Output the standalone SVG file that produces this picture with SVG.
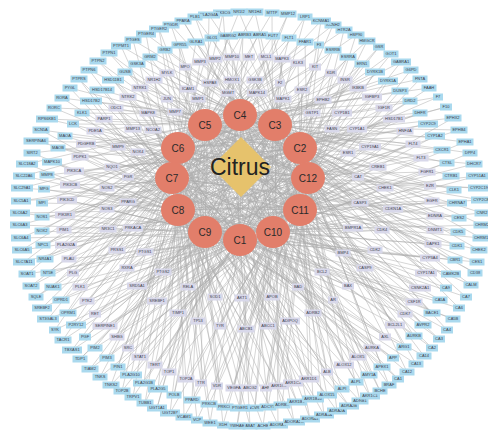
<svg xmlns="http://www.w3.org/2000/svg" width="488" height="432" viewBox="0 0 488 432">
<style>
text{font-family:"Liberation Sans",Arial,sans-serif;font-size:4px;fill:#3c3c48;text-anchor:middle}
.ct{font-size:10px;fill:#2a2a2a}
.cz{font-size:23px;fill:#222}
.e{fill:none;stroke:#acacac;stroke-width:.5;stroke-linejoin:round}
.c{fill:#e27e6a}
</style>
<defs>
<rect id="b2" x="-5" y="-3.5" width="10" height="7" fill="#aad9ee"/>
<rect id="b3" x="-6" y="-3.5" width="12" height="7" fill="#aad9ee"/>
<rect id="b4" x="-7.5" y="-3.5" width="15" height="7" fill="#aad9ee"/>
<rect id="b5" x="-8.5" y="-3.5" width="17" height="7" fill="#aad9ee"/>
<rect id="b6" x="-10" y="-3.5" width="20" height="7" fill="#aad9ee"/>
<rect id="b7" x="-11" y="-3.5" width="22" height="7" fill="#aad9ee"/>
<rect id="b8" x="-12.5" y="-3.5" width="25" height="7" fill="#aad9ee"/>
<rect id="l2" x="-5" y="-3.5" width="10" height="7" fill="#d8d8ea"/>
<rect id="l3" x="-6" y="-3.5" width="12" height="7" fill="#d8d8ea"/>
<rect id="l4" x="-7.5" y="-3.5" width="15" height="7" fill="#d8d8ea"/>
<rect id="l5" x="-8.5" y="-3.5" width="17" height="7" fill="#d8d8ea"/>
<rect id="l6" x="-10" y="-3.5" width="20" height="7" fill="#d8d8ea"/>
<rect id="l7" x="-11" y="-3.5" width="22" height="7" fill="#d8d8ea"/>
<rect id="l8" x="-12.5" y="-3.5" width="25" height="7" fill="#d8d8ea"/>
</defs>
<rect width="488" height="432" fill="#fff"/>
<g id="connectors" class="e">
<path d="M241 167L240 240M241 167L300 148M241 167L275 125M241 167L240 115M241 167L205 125M241 167L178 148M241 167L172 178M241 167L178 210M241 167L205 232M241 167L273 232M241 167L300 210M241 167L308 178"/>
<path d="M240 240L250 426L178 148M300 148L263 426L172 178M275 125L278 425L178 210M240 115L294 422L205 232M205 125L310 419L273 232M178 148L324 415L300 210M172 178L337 411L308 178M178 210L349 406L240 240M205 232L360 401L300 148M273 232L370 396L275 125M300 210L380 391L240 115M308 178L389 385L205 125M240 240L398 379L178 148M300 148L407 372L172 178M275 125L416 364L178 210M240 115L424 356L205 232M205 125L432 348L273 232M178 148L439 339L300 210M172 178L447 330L308 178M178 210L453 319L240 240M205 232L459 308L300 148M273 232L466 297L275 125M300 210L471 285L240 115M308 178L475 273L205 125M240 240L477 262L178 148M300 148L479 250L172 178M275 125L481 238L178 210M240 115L482 225L205 232M205 125L482 213L273 232M178 148L481 200L300 210M172 178L479 188L308 178M178 210L477 176L240 240M205 232L474 164L300 148M273 232L470 153L275 125M300 210L465 142L240 115M308 178L459 130L205 125M240 240L453 118L178 148M300 148L446 107L172 178M275 125L438 97L178 210M240 115L429 88L205 232M205 125L420 79L273 232M178 148L411 70L300 210M172 178L401 62L308 178M178 210L391 54L240 240M205 232L379 47L300 148M273 232L367 41L275 125M300 210L356 35L240 115M308 178L344 30L205 125M240 240L333 25L178 148M300 148L321 21L172 178M275 125L305 17L178 210M240 115L288 14L205 232M205 125L272 13L273 232M178 148L255 12L300 210M172 178L239 12L308 178M178 210L223 13L240 240M205 232L209 15L300 148M273 232L195 17L275 125M300 210L183 21L240 115M308 178L171 25L205 125M240 240L159 29L178 148M300 148L146 34L172 178M275 125L133 40L178 210M240 115L121 46L205 232M205 125L109 53L273 232M178 148L98 61L300 210M172 178L89 70L308 178M178 210L79 79L240 240M205 232L70 88L300 148M273 232L62 98L275 125M300 210L54 108L240 115M308 178L47 119L205 125M240 240L41 130L178 148M300 148L36 141L172 178M275 125L32 153L178 210M240 115L27 164L205 232M205 125L24 176L273 232M178 148L22 188L300 210M172 178L21 201L308 178M178 210L20 213L240 240M205 232L20 225L300 148M273 232L21 238L275 125M300 210L22 250L240 115M308 178L24 262L205 125M240 240L27 274L178 148M300 148L31 286L172 178M275 125L36 297L178 210M240 115L42 308L205 232M205 125L48 319L273 232M178 148L55 330L300 210M172 178L63 340L308 178M178 210L72 350L240 240M205 232L80 359L300 148M273 232L90 369L275 125M300 210L100 377L240 115M308 178L111 385L205 125M240 240L122 391L178 148M300 148L133 397L172 178M275 125L145 403L178 210M240 115L157 408L205 232M205 125L170 413L273 232M178 148L184 417L300 210M172 178L197 420L308 178M178 210L210 423L240 240M205 232L223 425L300 148M273 232L237 426L275 125"/>
<path d="M275 125L255 408L273 232M240 115L268 407L300 210M205 125L282 405L308 178M178 148L297 402L240 240M172 178L313 399L300 148M178 210L327 395L275 125M205 232L342 389L240 115M273 232L356 382L205 125M300 210L369 375L178 148M308 178L382 367L172 178M240 240L393 358L178 210M300 148L404 347L205 232M275 125L414 336L273 232M240 115L423 325L300 210M205 125L432 313L308 178M178 148L440 300L240 240M172 178L446 288L300 148M178 210L451 274L275 125M205 232L455 260L240 115M273 232L457 246L205 125M300 210L458 232L178 148M308 178L459 218L172 178M240 240L457 203L178 210M300 148L454 190L205 232M275 125L451 176L273 232M240 115L447 163L300 210M205 125L442 150L308 178M178 148L435 136L240 240M172 178L428 124L300 148M178 210L420 113L275 125M205 232L410 101L240 115M273 232L400 91L205 125M300 210L388 81L178 148M308 178L375 72L172 178M240 240L362 64L178 210M300 148L348 57L205 232M275 125L333 50L273 232M240 115L319 45L300 210M205 125L305 42L308 178M178 148L289 38L240 240M172 178L273 36L300 148M178 210L258 35L275 125M205 232L243 35L240 115M273 232L228 36L205 125M300 210L212 38L178 148M308 178L196 42L172 178M240 240L180 45L178 210M300 148L165 50L205 232M275 125L150 57L273 232M240 115L137 64L300 210M205 125L125 72L308 178M178 148L113 80L240 240M172 178L102 90L300 148M178 210L91 101L275 125M205 232L82 113L240 115M273 232L73 124L205 125M300 210L65 136L178 148M308 178L58 148L172 178M240 240L52 162L178 210M300 148L47 175L205 232M275 125L44 189L273 232M240 115L42 203L300 210M205 125L42 217L308 178M178 148L42 231L240 240M172 178L43 245L300 148M178 210L45 259L275 125M205 232L48 273L240 115M273 232L53 287L205 125M300 210L61 300L178 148M308 178L68 313L172 178M240 240L76 325L178 210M300 148L85 337L205 232M275 125L95 348L273 232M240 115L107 358L300 210M205 125L118 367L308 178M178 148L131 375L240 240M172 178L144 383L300 148M178 210L158 389L275 125M205 232L174 395L240 115M273 232L192 400L205 125M300 210L209 404L178 148M308 178L225 407L172 178M240 240L240 408L178 210"/>
<path d="M240 240L250 388L178 148M250 388L273 232M300 148L266 388L172 178M266 388L300 210M275 125L279 386L178 210M279 386L308 178M240 115L293 383L205 232M293 383L240 240M205 125L309 379L273 232M309 379L300 148M178 148L327 372L300 210M327 372L275 125M172 178L344 365L308 178M344 365L240 115M178 210L358 357L240 240M358 357L205 125M205 232L372 348L300 148M372 348L178 148M273 232L385 337L275 125M385 337L172 178M300 210L395 325L240 115M395 325L178 210M308 178L405 314L205 125M405 314L205 232M240 240L414 302L178 148M414 302L273 232M300 148L420 288L172 178M420 288L300 210M275 125L426 273L178 210M426 273L308 178M240 115L430 258L205 232M430 258L240 240M205 125L433 244L273 232M433 244L300 148M178 148L435 230L300 210M435 230L275 125M172 178L435 216L308 178M435 216L240 115M178 210L432 201L240 240M432 201L205 125M205 232L430 186L300 148M430 186L178 148M273 232L427 172L275 125M427 172L172 178M300 210L421 158L240 115M421 158L178 210M308 178L413 144L205 125M413 144L205 232M240 240L405 131L178 148M405 131L273 232M300 148L394 119L172 178M394 119L300 210M275 125L384 108L178 210M384 108L308 178M240 115L372 97L205 232M372 97L240 240M205 125L358 88L273 232M358 88L300 148M178 148L345 80L300 210M345 80L275 125M172 178L331 73L308 178M331 73L240 115M178 210L315 67L240 240M315 67L205 125M205 232L298 63L300 148M298 63L178 148M273 232L282 59L275 125M282 59L172 178M300 210L266 57L240 115M266 57L178 210M308 178L249 57L205 125M249 57L205 232M240 240L232 57L178 148M232 57L273 232M300 148L215 59L172 178M215 59L300 210M275 125L200 62L178 210M200 62L308 178M240 115L185 67L205 232M185 67L240 240M205 125L167 73L273 232M167 73L300 148M178 148L154 80L300 210M154 80L275 125M172 178L140 88L308 178M140 88L240 115M178 210L128 97L240 240M128 97L205 125M205 232L116 108L300 148M116 108L178 148M273 232L104 119L275 125M104 119L172 178M300 210L95 131L240 115M95 131L178 210M308 178L86 144L205 125M86 144L205 232M240 240L80 157L178 148M80 157L273 232M300 148L74 171L172 178M74 171L300 210M275 125L70 185L178 210M70 185L308 178M240 115L67 200L205 232M67 200L240 240M205 125L65 215L273 232M65 215L300 148M178 148L64 230L300 210M64 230L275 125M172 178L66 245L308 178M66 245L240 115M178 210L69 259L240 240M69 259L205 125M205 232L73 273L300 148M73 273L178 148M273 232L80 287L275 125M80 287L172 178M300 210L87 301L240 115M87 301L178 210M308 178L95 314L205 125M95 314L205 232M240 240L105 326L178 148M105 326L273 232M300 148L117 337L172 178M117 337L300 210M275 125L128 348L178 210M128 348L308 178M240 115L140 357L205 232M140 357L240 240M205 125L155 365L273 232M155 365L300 148M178 148L169 372L300 210M169 372L275 125M172 178L186 379L308 178M186 379L240 115M178 210L201 383L240 240M201 383L205 125M205 232L217 386L300 148M217 386L178 148M273 232L234 388L275 125M234 388L172 178M300 210L167 99L240 115M167 99L178 210M308 178L148 113L205 125M148 113L205 232M240 240L153 130L178 148M153 130L273 232M300 148L133 129L172 178M133 129L300 210M275 125L118 147L178 210M118 147L308 178M240 115L138 152L205 232M138 152L240 240M205 125L112 167L273 232M112 167L300 148M178 148L128 177L300 210M128 177L275 125M172 178L107 188L308 178M107 188L240 115M178 210L128 202L240 240M128 202L205 125M205 232L107 209L300 148M107 209L178 148M273 232L108 229L275 125M108 229L172 178M300 210L133 228L240 115M133 228L178 210M308 178L117 250L205 125M117 250L205 232M240 240L145 252L178 148M145 252L273 232M300 148L127 268L172 178M127 268L300 210M275 125L163 272L178 210M163 272L308 178M240 115L137 286L205 232M137 286L240 240M205 125L157 301L273 232M157 301L300 148M178 148L188 287L300 210M188 287L275 125M172 178L215 297L308 178M215 297L240 115M178 210L178 313L240 240M178 313L205 125M205 232L198 321L300 148M198 321L178 148M273 232L220 326L275 125M220 326L172 178M300 210L246 329L240 115M246 329L178 210M308 178L242 298L205 125M242 298L205 232M240 240L268 326L178 148M268 326L273 232M300 148L272 297L172 178M272 297L300 210M275 125L290 321L178 210M290 321L308 178M240 115L298 287L205 232M298 287L240 240M205 125L313 313L273 232M313 313L300 148M178 148L322 272L300 210M322 272L275 125M172 178L333 300L308 178M333 300L240 115M178 210L348 286L240 240M348 286L205 125M205 232L365 268L300 148M365 268L178 148M273 232L343 253L275 125M343 253L172 178M300 210L375 250L240 115M375 250L178 210M308 178L353 228L205 125M353 228L205 232M240 240L382 230L178 148M382 230L273 232M300 148L360 203L172 178M360 203L300 210M275 125L393 209L178 210M393 209L308 178M240 115L358 177L205 232M358 177L240 240M205 125L385 188L273 232M385 188L300 148M178 148L378 167L300 210M378 167L275 125M172 178L348 153L308 178M348 153L240 115M178 210L370 147L240 240M370 147L205 125M205 232L357 129L300 148M357 129L178 148M273 232L332 129L275 125M332 129L172 178M300 210L342 113L240 115M342 113L178 210M308 178L312 113L205 125M312 113L205 232M240 240L323 100L178 148M323 100L273 232M300 148L302 90L172 178M302 90L300 210M275 125L283 99L178 210M283 99L308 178M240 115L280 83L205 232M280 83L240 240M205 125L257 93L273 232M257 93L300 148M178 148L255 80L300 210M255 80L275 125M172 178L228 93L308 178M228 93L240 115M178 210L232 80L240 240M232 80L205 125M205 232L210 83L300 148M210 83L178 148M273 232L198 99L275 125M198 99L172 178M300 210L188 89L240 115M188 89L178 210M308 178L175 112L205 125M175 112L205 232"/>
</g>
<g id="outer-targets">
<g id="n-ABAT" transform="translate(250 426)"><use href="#b4"/><text y="1.4">ABAT</text></g>
<g id="n-ACHE" transform="translate(263 426)"><use href="#b4"/><text y="1.4">ACHE</text></g>
<g id="n-ADORA1" transform="translate(278 425)"><use href="#b6"/><text y="1.4">ADORA1</text></g>
<g id="n-ADORA2A" transform="translate(294 422)"><use href="#b7"/><text y="1.4">ADORA2A</text></g>
<g id="n-ADORA3" transform="translate(310 419)"><use href="#b6"/><text y="1.4">ADORA3</text></g>
<g id="n-ADRA1A" transform="translate(324 415)"><use href="#b6"/><text y="1.4">ADRA1A</text></g>
<g id="n-ADRA2A" transform="translate(337 411)"><use href="#b6"/><text y="1.4">ADRA2A</text></g>
<g id="n-ADRA2B" transform="translate(349 406)"><use href="#b6"/><text y="1.4">ADRA2B</text></g>
<g id="n-ADRB1" transform="translate(360 401)"><use href="#b5"/><text y="1.4">ADRB1</text></g>
<g id="n-AKR1C1" transform="translate(370 396)"><use href="#b6"/><text y="1.4">AKR1C1</text></g>
<g id="n-BCHE" transform="translate(380 391)"><use href="#b4"/><text y="1.4">BCHE</text></g>
<g id="n-BRAF" transform="translate(389 385)"><use href="#b4"/><text y="1.4">BRAF</text></g>
<g id="n-CA1" transform="translate(398 379)"><use href="#b3"/><text y="1.4">CA1</text></g>
<g id="n-CA12" transform="translate(407 372)"><use href="#b4"/><text y="1.4">CA12</text></g>
<g id="n-CA13" transform="translate(416 364)"><use href="#b4"/><text y="1.4">CA13</text></g>
<g id="n-CA14" transform="translate(424 356)"><use href="#b4"/><text y="1.4">CA14</text></g>
<g id="n-CA2" transform="translate(432 348)"><use href="#b3"/><text y="1.4">CA2</text></g>
<g id="n-CA3" transform="translate(439 339)"><use href="#b3"/><text y="1.4">CA3</text></g>
<g id="n-CA4" transform="translate(447 330)"><use href="#b3"/><text y="1.4">CA4</text></g>
<g id="n-CA5B" transform="translate(453 319)"><use href="#b4"/><text y="1.4">CA5B</text></g>
<g id="n-CA6" transform="translate(459 308)"><use href="#b3"/><text y="1.4">CA6</text></g>
<g id="n-CA7" transform="translate(466 297)"><use href="#b3"/><text y="1.4">CA7</text></g>
<g id="n-CALM" transform="translate(471 285)"><use href="#b4"/><text y="1.4">CALM</text></g>
<g id="n-CD38" transform="translate(475 273)"><use href="#b4"/><text y="1.4">CD38</text></g>
<g id="n-CES1" transform="translate(477 262)"><use href="#b4"/><text y="1.4">CES1</text></g>
<g id="n-CHEK2" transform="translate(479 250)"><use href="#b5"/><text y="1.4">CHEK2</text></g>
<g id="n-CHRM1" transform="translate(481 238)"><use href="#b5"/><text y="1.4">CHRM1</text></g>
<g id="n-CHRM2" transform="translate(482 225)"><use href="#b5"/><text y="1.4">CHRM2</text></g>
<g id="n-CNR2" transform="translate(482 213)"><use href="#b4"/><text y="1.4">CNR2</text></g>
<g id="n-CYP2C8" transform="translate(481 200)"><use href="#b6"/><text y="1.4">CYP2C8</text></g>
<g id="n-CYP2C19" transform="translate(479 188)"><use href="#b7"/><text y="1.4">CYP2C19</text></g>
<g id="n-CYP51A1" transform="translate(477 176)"><use href="#b7"/><text y="1.4">CYP51A1</text></g>
<g id="n-DHCR7" transform="translate(474 164)"><use href="#b5"/><text y="1.4">DHCR7</text></g>
<g id="n-DPP4" transform="translate(470 153)"><use href="#b4"/><text y="1.4">DPP4</text></g>
<g id="n-EPHA1" transform="translate(465 142)"><use href="#b5"/><text y="1.4">EPHA1</text></g>
<g id="n-EPHB4" transform="translate(459 130)"><use href="#b5"/><text y="1.4">EPHB4</text></g>
<g id="n-EPHX2" transform="translate(453 118)"><use href="#b5"/><text y="1.4">EPHX2</text></g>
<g id="n-F10" transform="translate(446 107)"><use href="#b3"/><text y="1.4">F10</text></g>
<g id="n-F7" transform="translate(438 97)"><use href="#b2"/><text y="1.4">F7</text></g>
<g id="n-FAAH" transform="translate(429 88)"><use href="#b4"/><text y="1.4">FAAH</text></g>
<g id="n-FNTA" transform="translate(420 79)"><use href="#b4"/><text y="1.4">FNTA</text></g>
<g id="n-G6PD" transform="translate(411 70)"><use href="#b4"/><text y="1.4">G6PD</text></g>
<g id="n-GABRA1" transform="translate(401 62)"><use href="#b6"/><text y="1.4">GABRA1</text></g>
<g id="n-GOT1" transform="translate(391 54)"><use href="#b4"/><text y="1.4">GOT1</text></g>
<g id="n-GSR" transform="translate(379 47)"><use href="#b3"/><text y="1.4">GSR</text></g>
<g id="n-HMGCR" transform="translate(367 41)"><use href="#b5"/><text y="1.4">HMGCR</text></g>
<g id="n-HSP90" transform="translate(356 35)"><use href="#b5"/><text y="1.4">HSP90</text></g>
<g id="n-HTR2A" transform="translate(344 30)"><use href="#b5"/><text y="1.4">HTR2A</text></g>
<g id="n-KCNH2" transform="translate(333 25)"><use href="#b5"/><text y="1.4">KCNH2</text></g>
<g id="n-KCNMA1" transform="translate(321 21)"><use href="#b6"/><text y="1.4">KCNMA1</text></g>
<g id="n-LRP1" transform="translate(305 17)"><use href="#b4"/><text y="1.4">LRP1</text></g>
<g id="n-MMP12" transform="translate(288 14)"><use href="#b5"/><text y="1.4">MMP12</text></g>
<g id="n-MTTP" transform="translate(272 13)"><use href="#b4"/><text y="1.4">MTTP</text></g>
<g id="n-NR1H4" transform="translate(255 12)"><use href="#b5"/><text y="1.4">NR1H4</text></g>
<g id="n-NR1I2" transform="translate(239 12)"><use href="#b5"/><text y="1.4">NR1I2</text></g>
<g id="n-PIK3CG" transform="translate(223 13)"><use href="#b6"/><text y="1.4">PIK3CG</text></g>
<g id="n-PLA2G4A" transform="translate(209 15)"><use href="#b7"/><text y="1.4">PLA2G4A</text></g>
<g id="n-PLB1" transform="translate(195 17)"><use href="#b4"/><text y="1.4">PLB1</text></g>
<g id="n-PPARA" transform="translate(183 21)"><use href="#b5"/><text y="1.4">PPARA</text></g>
<g id="n-PTGDR" transform="translate(171 25)"><use href="#b5"/><text y="1.4">PTGDR</text></g>
<g id="n-PTGER2" transform="translate(159 29)"><use href="#b6"/><text y="1.4">PTGER2</text></g>
<g id="n-PTGER4" transform="translate(146 34)"><use href="#b6"/><text y="1.4">PTGER4</text></g>
<g id="n-PTGES" transform="translate(133 40)"><use href="#b5"/><text y="1.4">PTGES</text></g>
<g id="n-PTPMT1" transform="translate(121 46)"><use href="#b6"/><text y="1.4">PTPMT1</text></g>
<g id="n-PTPN1" transform="translate(109 53)"><use href="#b5"/><text y="1.4">PTPN1</text></g>
<g id="n-PTPN2" transform="translate(98 61)"><use href="#b5"/><text y="1.4">PTPN2</text></g>
<g id="n-PTPN6" transform="translate(89 70)"><use href="#b5"/><text y="1.4">PTPN6</text></g>
<g id="n-PTPRS" transform="translate(79 79)"><use href="#b5"/><text y="1.4">PTPRS</text></g>
<g id="n-PYGL" transform="translate(70 88)"><use href="#b4"/><text y="1.4">PYGL</text></g>
<g id="n-RORA" transform="translate(62 98)"><use href="#b4"/><text y="1.4">RORA</text></g>
<g id="n-RORC" transform="translate(54 108)"><use href="#b4"/><text y="1.4">RORC</text></g>
<g id="n-RPS6KB1" transform="translate(47 119)"><use href="#b7"/><text y="1.4">RPS6KB1</text></g>
<g id="n-SCN5A" transform="translate(41 130)"><use href="#b5"/><text y="1.4">SCN5A</text></g>
<g id="n-SERPINA6" transform="translate(36 141)"><use href="#b8"/><text y="1.4">SERPINA6</text></g>
<g id="n-SIRT2" transform="translate(32 153)"><use href="#b5"/><text y="1.4">SIRT2</text></g>
<g id="n-SLC18A2" transform="translate(27 164)"><use href="#b7"/><text y="1.4">SLC18A2</text></g>
<g id="n-SLC22A6" transform="translate(24 176)"><use href="#b7"/><text y="1.4">SLC22A6</text></g>
<g id="n-SLC29A1" transform="translate(22 188)"><use href="#b7"/><text y="1.4">SLC29A1</text></g>
<g id="n-SLC5A1" transform="translate(21 201)"><use href="#b6"/><text y="1.4">SLC5A1</text></g>
<g id="n-SLC6A2" transform="translate(20 213)"><use href="#b6"/><text y="1.4">SLC6A2</text></g>
<g id="n-SLC6A3" transform="translate(20 225)"><use href="#b6"/><text y="1.4">SLC6A3</text></g>
<g id="n-SLC6A4" transform="translate(21 238)"><use href="#b6"/><text y="1.4">SLC6A4</text></g>
<g id="n-SLC6A5" transform="translate(22 250)"><use href="#b6"/><text y="1.4">SLC6A5</text></g>
<g id="n-SLC7A11" transform="translate(24 262)"><use href="#b7"/><text y="1.4">SLC7A11</text></g>
<g id="n-SOAT1" transform="translate(27 274)"><use href="#b5"/><text y="1.4">SOAT1</text></g>
<g id="n-SOAT2" transform="translate(31 286)"><use href="#b5"/><text y="1.4">SOAT2</text></g>
<g id="n-SQLE" transform="translate(36 297)"><use href="#b4"/><text y="1.4">SQLE</text></g>
<g id="n-SREBF2" transform="translate(42 308)"><use href="#b6"/><text y="1.4">SREBF2</text></g>
<g id="n-ST3GAL3" transform="translate(48 319)"><use href="#b7"/><text y="1.4">ST3GAL3</text></g>
<g id="n-SYK" transform="translate(55 330)"><use href="#b3"/><text y="1.4">SYK</text></g>
<g id="n-TACR1" transform="translate(63 340)"><use href="#b5"/><text y="1.4">TACR1</text></g>
<g id="n-TBXAS1" transform="translate(72 350)"><use href="#b6"/><text y="1.4">TBXAS1</text></g>
<g id="n-TDP1" transform="translate(80 359)"><use href="#b4"/><text y="1.4">TDP1</text></g>
<g id="n-TIAM2" transform="translate(90 369)"><use href="#b5"/><text y="1.4">TIAM2</text></g>
<g id="n-TNKS" transform="translate(100 377)"><use href="#b4"/><text y="1.4">TNKS</text></g>
<g id="n-TNKS2" transform="translate(111 385)"><use href="#b5"/><text y="1.4">TNKS2</text></g>
<g id="n-TOP2B" transform="translate(122 391)"><use href="#b5"/><text y="1.4">TOP2B</text></g>
<g id="n-TRPV1" transform="translate(133 397)"><use href="#b5"/><text y="1.4">TRPV1</text></g>
<g id="n-TUBB1" transform="translate(145 403)"><use href="#b5"/><text y="1.4">TUBB1</text></g>
<g id="n-UGT1A1" transform="translate(157 408)"><use href="#b6"/><text y="1.4">UGT1A1</text></g>
<g id="n-UGT2B7" transform="translate(170 413)"><use href="#b6"/><text y="1.4">UGT2B7</text></g>
<g id="n-VCAM1" transform="translate(184 417)"><use href="#b5"/><text y="1.4">VCAM1</text></g>
<g id="n-VCP" transform="translate(197 420)"><use href="#b3"/><text y="1.4">VCP</text></g>
<g id="n-WEE1" transform="translate(210 423)"><use href="#b4"/><text y="1.4">WEE1</text></g>
<g id="n-XDH" transform="translate(223 425)"><use href="#b3"/><text y="1.4">XDH</text></g>
<g id="n-YWHAE" transform="translate(237 426)"><use href="#b5"/><text y="1.4">YWHAE</text></g>
</g>
<g id="inner-targets">
<g id="n-ACVR1" transform="translate(255 408)"><use href="#b5"/><text y="1.4">ACVR1</text></g>
<g id="n-ADCY5" transform="translate(268 407)"><use href="#b5"/><text y="1.4">ADCY5</text></g>
<g id="n-ADRB3" transform="translate(282 405)"><use href="#b5"/><text y="1.4">ADRB3</text></g>
<g id="n-AKR1B1" transform="translate(297 402)"><use href="#b6"/><text y="1.4">AKR1B1</text></g>
<g id="n-AKR1B10" transform="translate(313 399)"><use href="#b7"/><text y="1.4">AKR1B10</text></g>
<g id="n-ALOX15" transform="translate(327 395)"><use href="#b6"/><text y="1.4">ALOX15</text></g>
<g id="n-ALPI" transform="translate(342 389)"><use href="#b4"/><text y="1.4">ALPI</text></g>
<g id="n-ALPL" transform="translate(356 382)"><use href="#b4"/><text y="1.4">ALPL</text></g>
<g id="n-AMY1A" transform="translate(369 375)"><use href="#b5"/><text y="1.4">AMY1A</text></g>
<g id="n-APEX1" transform="translate(382 367)"><use href="#b5"/><text y="1.4">APEX1</text></g>
<g id="n-APP" transform="translate(393 358)"><use href="#b3"/><text y="1.4">APP</text></g>
<g id="n-ARG1" transform="translate(404 347)"><use href="#b4"/><text y="1.4">ARG1</text></g>
<g id="n-AURKB" transform="translate(414 336)"><use href="#b5"/><text y="1.4">AURKB</text></g>
<g id="n-AVPR2" transform="translate(423 325)"><use href="#b5"/><text y="1.4">AVPR2</text></g>
<g id="n-BACE1" transform="translate(432 313)"><use href="#b5"/><text y="1.4">BACE1</text></g>
<g id="n-CA5A" transform="translate(440 300)"><use href="#b4"/><text y="1.4">CA5A</text></g>
<g id="n-CA9" transform="translate(446 288)"><use href="#b3"/><text y="1.4">CA9</text></g>
<g id="n-CAMK2B" transform="translate(451 274)"><use href="#b6"/><text y="1.4">CAMK2B</text></g>
<g id="n-CBR1" transform="translate(455 260)"><use href="#b4"/><text y="1.4">CBR1</text></g>
<g id="n-CDK1" transform="translate(457 246)"><use href="#b4"/><text y="1.4">CDK1</text></g>
<g id="n-CDK5" transform="translate(458 232)"><use href="#b4"/><text y="1.4">CDK5</text></g>
<g id="n-CES2" transform="translate(459 218)"><use href="#b4"/><text y="1.4">CES2</text></g>
<g id="n-CHRNA7" transform="translate(457 203)"><use href="#b6"/><text y="1.4">CHRNA7</text></g>
<g id="n-CLK1" transform="translate(454 190)"><use href="#b4"/><text y="1.4">CLK1</text></g>
<g id="n-CTRB1" transform="translate(451 176)"><use href="#b5"/><text y="1.4">CTRB1</text></g>
<g id="n-CTSL" transform="translate(447 163)"><use href="#b4"/><text y="1.4">CTSL</text></g>
<g id="n-CXCR1" transform="translate(442 150)"><use href="#b5"/><text y="1.4">CXCR1</text></g>
<g id="n-CYP1A2" transform="translate(435 136)"><use href="#b6"/><text y="1.4">CYP1A2</text></g>
<g id="n-CYP2C9" transform="translate(428 124)"><use href="#b6"/><text y="1.4">CYP2C9</text></g>
<g id="n-DHFR" transform="translate(420 113)"><use href="#b4"/><text y="1.4">DHFR</text></g>
<g id="n-DRD2" transform="translate(410 101)"><use href="#b4"/><text y="1.4">DRD2</text></g>
<g id="n-DUSP3" transform="translate(400 91)"><use href="#b5"/><text y="1.4">DUSP3</text></g>
<g id="n-DYRK1A" transform="translate(388 81)"><use href="#b6"/><text y="1.4">DYRK1A</text></g>
<g id="n-DYRK1B" transform="translate(375 72)"><use href="#b6"/><text y="1.4">DYRK1B</text></g>
<g id="n-ERN1" transform="translate(362 64)"><use href="#b4"/><text y="1.4">ERN1</text></g>
<g id="n-ESRRA" transform="translate(348 57)"><use href="#b5"/><text y="1.4">ESRRA</text></g>
<g id="n-ESRRB" transform="translate(333 50)"><use href="#b5"/><text y="1.4">ESRRB</text></g>
<g id="n-F3" transform="translate(319 45)"><use href="#b2"/><text y="1.4">F3</text></g>
<g id="n-FFAR1" transform="translate(305 42)"><use href="#b5"/><text y="1.4">FFAR1</text></g>
<g id="n-FLT1" transform="translate(289 38)"><use href="#b4"/><text y="1.4">FLT1</text></g>
<g id="n-FUT7" transform="translate(273 36)"><use href="#b4"/><text y="1.4">FUT7</text></g>
<g id="n-GABRA5" transform="translate(258 35)"><use href="#b6"/><text y="1.4">GABRA5</text></g>
<g id="n-GABRB3" transform="translate(243 35)"><use href="#b6"/><text y="1.4">GABRB3</text></g>
<g id="n-GABRG2" transform="translate(228 36)"><use href="#b6"/><text y="1.4">GABRG2</text></g>
<g id="n-GLO1" transform="translate(212 38)"><use href="#b4"/><text y="1.4">GLO1</text></g>
<g id="n-GLRA1" transform="translate(196 42)"><use href="#b5"/><text y="1.4">GLRA1</text></g>
<g id="n-GPR55" transform="translate(180 45)"><use href="#b5"/><text y="1.4">GPR55</text></g>
<g id="n-GRB2" transform="translate(165 50)"><use href="#b4"/><text y="1.4">GRB2</text></g>
<g id="n-GRM2" transform="translate(150 57)"><use href="#b4"/><text y="1.4">GRM2</text></g>
<g id="n-GSK3A" transform="translate(137 64)"><use href="#b5"/><text y="1.4">GSK3A</text></g>
<g id="n-GUSB" transform="translate(125 72)"><use href="#b4"/><text y="1.4">GUSB</text></g>
<g id="n-HSD11B1" transform="translate(113 80)"><use href="#b7"/><text y="1.4">HSD11B1</text></g>
<g id="n-HSD17B14" transform="translate(102 90)"><use href="#b8"/><text y="1.4">HSD17B14</text></g>
<g id="n-HSD17B2" transform="translate(91 101)"><use href="#b7"/><text y="1.4">HSD17B2</text></g>
<g id="n-KLK1" transform="translate(82 113)"><use href="#b4"/><text y="1.4">KLK1</text></g>
<g id="n-LCK" transform="translate(73 124)"><use href="#b3"/><text y="1.4">LCK</text></g>
<g id="n-MAOA" transform="translate(65 136)"><use href="#b4"/><text y="1.4">MAOA</text></g>
<g id="n-MAOB" transform="translate(58 148)"><use href="#b4"/><text y="1.4">MAOB</text></g>
<g id="n-MAPK10" transform="translate(52 162)"><use href="#b6"/><text y="1.4">MAPK10</text></g>
<g id="n-MMP8" transform="translate(47 175)"><use href="#b4"/><text y="1.4">MMP8</text></g>
<g id="n-MPG" transform="translate(44 189)"><use href="#b3"/><text y="1.4">MPG</text></g>
<g id="n-MPI" transform="translate(42 203)"><use href="#b3"/><text y="1.4">MPI</text></g>
<g id="n-NOS1" transform="translate(42 217)"><use href="#b4"/><text y="1.4">NOS1</text></g>
<g id="n-NOX2" transform="translate(42 231)"><use href="#b4"/><text y="1.4">NOX2</text></g>
<g id="n-NPC1" transform="translate(43 245)"><use href="#b4"/><text y="1.4">NPC1</text></g>
<g id="n-NR4A1" transform="translate(45 259)"><use href="#b5"/><text y="1.4">NR4A1</text></g>
<g id="n-NT5E" transform="translate(48 273)"><use href="#b4"/><text y="1.4">NT5E</text></g>
<g id="n-NUAK1" transform="translate(53 287)"><use href="#b5"/><text y="1.4">NUAK1</text></g>
<g id="n-OPRD1" transform="translate(61 300)"><use href="#b5"/><text y="1.4">OPRD1</text></g>
<g id="n-OPRM1" transform="translate(68 313)"><use href="#b5"/><text y="1.4">OPRM1</text></g>
<g id="n-P2RY12" transform="translate(76 325)"><use href="#b6"/><text y="1.4">P2RY12</text></g>
<g id="n-PGF" transform="translate(85 337)"><use href="#b3"/><text y="1.4">PGF</text></g>
<g id="n-PIM2" transform="translate(95 348)"><use href="#b4"/><text y="1.4">PIM2</text></g>
<g id="n-PIM3" transform="translate(107 358)"><use href="#b4"/><text y="1.4">PIM3</text></g>
<g id="n-PIN1" transform="translate(118 367)"><use href="#b4"/><text y="1.4">PIN1</text></g>
<g id="n-PLA2G10" transform="translate(131 375)"><use href="#b7"/><text y="1.4">PLA2G10</text></g>
<g id="n-PLA2G1B" transform="translate(144 383)"><use href="#b7"/><text y="1.4">PLA2G1B</text></g>
<g id="n-PLA2G5" transform="translate(158 389)"><use href="#b6"/><text y="1.4">PLA2G5</text></g>
<g id="n-POLB" transform="translate(174 395)"><use href="#b4"/><text y="1.4">POLB</text></g>
<g id="n-PPARD" transform="translate(192 400)"><use href="#b5"/><text y="1.4">PPARD</text></g>
<g id="n-PRKCB" transform="translate(209 404)"><use href="#b5"/><text y="1.4">PRKCB</text></g>
<g id="n-PRKCQ" transform="translate(225 407)"><use href="#b5"/><text y="1.4">PRKCQ</text></g>
<g id="n-PTGER1" transform="translate(240 408)"><use href="#b6"/><text y="1.4">PTGER1</text></g>
</g>
<g id="hub-targets">
<g id="n-ABCG2" transform="translate(250 388)"><use href="#l5"/><text y="1.4">ABCG2</text></g>
<g id="n-AHR" transform="translate(266 388)"><use href="#l3"/><text y="1.4">AHR</text></g>
<g id="n-AKR1C2" transform="translate(279 386)"><use href="#l6"/><text y="1.4">AKR1C2</text></g>
<g id="n-AKR1C3" transform="translate(293 383)"><use href="#l6"/><text y="1.4">AKR1C3</text></g>
<g id="n-AKR1D1" transform="translate(309 379)"><use href="#l6"/><text y="1.4">AKR1D1</text></g>
<g id="n-ALB" transform="translate(327 372)"><use href="#l3"/><text y="1.4">ALB</text></g>
<g id="n-ALOX12" transform="translate(344 365)"><use href="#l6"/><text y="1.4">ALOX12</text></g>
<g id="n-ALOX5" transform="translate(358 357)"><use href="#l5"/><text y="1.4">ALOX5</text></g>
<g id="n-AURKA" transform="translate(372 348)"><use href="#l5"/><text y="1.4">AURKA</text></g>
<g id="n-AXL" transform="translate(385 337)"><use href="#l3"/><text y="1.4">AXL</text></g>
<g id="n-BCL2L1" transform="translate(395 325)"><use href="#l6"/><text y="1.4">BCL2L1</text></g>
<g id="n-CDK7" transform="translate(405 314)"><use href="#l4"/><text y="1.4">CDK7</text></g>
<g id="n-CSF1R" transform="translate(414 302)"><use href="#l5"/><text y="1.4">CSF1R</text></g>
<g id="n-CSNK2A1" transform="translate(420 288)"><use href="#l7"/><text y="1.4">CSNK2A1</text></g>
<g id="n-CYP17A1" transform="translate(426 273)"><use href="#l7"/><text y="1.4">CYP17A1</text></g>
<g id="n-CYP3A4" transform="translate(430 258)"><use href="#l6"/><text y="1.4">CYP3A4</text></g>
<g id="n-DAPK1" transform="translate(433 244)"><use href="#l5"/><text y="1.4">DAPK1</text></g>
<g id="n-DNMT1" transform="translate(435 230)"><use href="#l5"/><text y="1.4">DNMT1</text></g>
<g id="n-EDNRA" transform="translate(435 216)"><use href="#l5"/><text y="1.4">EDNRA</text></g>
<g id="n-EGFR" transform="translate(432 201)"><use href="#l4"/><text y="1.4">EGFR</text></g>
<g id="n-EZR" transform="translate(430 186)"><use href="#l3"/><text y="1.4">EZR</text></g>
<g id="n-FGFR1" transform="translate(427 172)"><use href="#l5"/><text y="1.4">FGFR1</text></g>
<g id="n-FLT3" transform="translate(421 158)"><use href="#l4"/><text y="1.4">FLT3</text></g>
<g id="n-FLT4" transform="translate(413 144)"><use href="#l4"/><text y="1.4">FLT4</text></g>
<g id="n-HNF4A" transform="translate(405 131)"><use href="#l5"/><text y="1.4">HNF4A</text></g>
<g id="n-HSD17B1" transform="translate(394 119)"><use href="#l7"/><text y="1.4">HSD17B1</text></g>
<g id="n-IGF1R" transform="translate(384 108)"><use href="#l5"/><text y="1.4">IGF1R</text></g>
<g id="n-IGFBP3" transform="translate(372 97)"><use href="#l6"/><text y="1.4">IGFBP3</text></g>
<g id="n-IKBKB" transform="translate(358 88)"><use href="#l5"/><text y="1.4">IKBKB</text></g>
<g id="n-INSR" transform="translate(345 80)"><use href="#l4"/><text y="1.4">INSR</text></g>
<g id="n-KDR" transform="translate(331 73)"><use href="#l3"/><text y="1.4">KDR</text></g>
<g id="n-KIT" transform="translate(315 67)"><use href="#l3"/><text y="1.4">KIT</text></g>
<g id="n-KLK3" transform="translate(298 63)"><use href="#l4"/><text y="1.4">KLK3</text></g>
<g id="n-MAPK3" transform="translate(282 59)"><use href="#l5"/><text y="1.4">MAPK3</text></g>
<g id="n-MCL1" transform="translate(266 57)"><use href="#l4"/><text y="1.4">MCL1</text></g>
<g id="n-MET" transform="translate(249 57)"><use href="#l3"/><text y="1.4">MET</text></g>
<g id="n-MMP10" transform="translate(232 57)"><use href="#l5"/><text y="1.4">MMP10</text></g>
<g id="n-MMP2" transform="translate(215 59)"><use href="#l4"/><text y="1.4">MMP2</text></g>
<g id="n-MMP3" transform="translate(200 62)"><use href="#l4"/><text y="1.4">MMP3</text></g>
<g id="n-MPO" transform="translate(185 67)"><use href="#l3"/><text y="1.4">MPO</text></g>
<g id="n-MYLK" transform="translate(167 73)"><use href="#l4"/><text y="1.4">MYLK</text></g>
<g id="n-NR1H2" transform="translate(154 80)"><use href="#l5"/><text y="1.4">NR1H2</text></g>
<g id="n-NTRK1" transform="translate(140 88)"><use href="#l5"/><text y="1.4">NTRK1</text></g>
<g id="n-NTRK2" transform="translate(128 97)"><use href="#l5"/><text y="1.4">NTRK2</text></g>
<g id="n-ODC1" transform="translate(116 108)"><use href="#l4"/><text y="1.4">ODC1</text></g>
<g id="n-PARP1" transform="translate(104 119)"><use href="#l5"/><text y="1.4">PARP1</text></g>
<g id="n-PDE5A" transform="translate(95 131)"><use href="#l5"/><text y="1.4">PDE5A</text></g>
<g id="n-PDGFRB" transform="translate(86 144)"><use href="#l6"/><text y="1.4">PDGFRB</text></g>
<g id="n-PDPK1" transform="translate(80 157)"><use href="#l5"/><text y="1.4">PDPK1</text></g>
<g id="n-PIK3CA" transform="translate(74 171)"><use href="#l6"/><text y="1.4">PIK3CA</text></g>
<g id="n-PIK3CB" transform="translate(70 185)"><use href="#l6"/><text y="1.4">PIK3CB</text></g>
<g id="n-PIK3CD" transform="translate(67 200)"><use href="#l6"/><text y="1.4">PIK3CD</text></g>
<g id="n-PIK3R1" transform="translate(65 215)"><use href="#l6"/><text y="1.4">PIK3R1</text></g>
<g id="n-PIM1" transform="translate(64 230)"><use href="#l4"/><text y="1.4">PIM1</text></g>
<g id="n-PLA2G2A" transform="translate(66 245)"><use href="#l7"/><text y="1.4">PLA2G2A</text></g>
<g id="n-PLAU" transform="translate(69 259)"><use href="#l4"/><text y="1.4">PLAU</text></g>
<g id="n-PLG" transform="translate(73 273)"><use href="#l3"/><text y="1.4">PLG</text></g>
<g id="n-PLK1" transform="translate(80 287)"><use href="#l4"/><text y="1.4">PLK1</text></g>
<g id="n-PTK2" transform="translate(87 301)"><use href="#l4"/><text y="1.4">PTK2</text></g>
<g id="n-RET" transform="translate(95 314)"><use href="#l3"/><text y="1.4">RET</text></g>
<g id="n-SERPINE1" transform="translate(105 326)"><use href="#l8"/><text y="1.4">SERPINE1</text></g>
<g id="n-SHBG" transform="translate(117 337)"><use href="#l4"/><text y="1.4">SHBG</text></g>
<g id="n-SRC" transform="translate(128 348)"><use href="#l3"/><text y="1.4">SRC</text></g>
<g id="n-STAT1" transform="translate(140 357)"><use href="#l5"/><text y="1.4">STAT1</text></g>
<g id="n-TERT" transform="translate(155 365)"><use href="#l4"/><text y="1.4">TERT</text></g>
<g id="n-TOP1" transform="translate(169 372)"><use href="#l4"/><text y="1.4">TOP1</text></g>
<g id="n-TOP2A" transform="translate(186 379)"><use href="#l5"/><text y="1.4">TOP2A</text></g>
<g id="n-TTR" transform="translate(201 383)"><use href="#l3"/><text y="1.4">TTR</text></g>
<g id="n-VDR" transform="translate(217 386)"><use href="#l3"/><text y="1.4">VDR</text></g>
<g id="n-VEGFA" transform="translate(234 388)"><use href="#l5"/><text y="1.4">VEGFA</text></g>
<g id="n-JUN" transform="translate(167 99)"><use href="#l3"/><text y="1.4">JUN</text></g>
<g id="n-MAPK8" transform="translate(148 113)"><use href="#l5"/><text y="1.4">MAPK8</text></g>
<g id="n-NCOA2" transform="translate(153 130)"><use href="#l5"/><text y="1.4">NCOA2</text></g>
<g id="n-MMP13" transform="translate(133 129)"><use href="#l5"/><text y="1.4">MMP13</text></g>
<g id="n-MMP9" transform="translate(118 147)"><use href="#l4"/><text y="1.4">MMP9</text></g>
<g id="n-NOX4" transform="translate(138 152)"><use href="#l4"/><text y="1.4">NOX4</text></g>
<g id="n-NQO1" transform="translate(112 167)"><use href="#l4"/><text y="1.4">NQO1</text></g>
<g id="n-PGR" transform="translate(128 177)"><use href="#l3"/><text y="1.4">PGR</text></g>
<g id="n-NOS2" transform="translate(107 188)"><use href="#l4"/><text y="1.4">NOS2</text></g>
<g id="n-PPARG" transform="translate(128 202)"><use href="#l5"/><text y="1.4">PPARG</text></g>
<g id="n-NOS3" transform="translate(107 209)"><use href="#l4"/><text y="1.4">NOS3</text></g>
<g id="n-NR3C1" transform="translate(108 229)"><use href="#l5"/><text y="1.4">NR3C1</text></g>
<g id="n-PRKACA" transform="translate(133 228)"><use href="#l6"/><text y="1.4">PRKACA</text></g>
<g id="n-PRSS1" transform="translate(117 250)"><use href="#l5"/><text y="1.4">PRSS1</text></g>
<g id="n-PTGS1" transform="translate(145 252)"><use href="#l5"/><text y="1.4">PTGS1</text></g>
<g id="n-RXRA" transform="translate(127 268)"><use href="#l4"/><text y="1.4">RXRA</text></g>
<g id="n-PTGS2" transform="translate(163 272)"><use href="#l5"/><text y="1.4">PTGS2</text></g>
<g id="n-SRD5A1" transform="translate(137 286)"><use href="#l6"/><text y="1.4">SRD5A1</text></g>
<g id="n-SREBF1" transform="translate(157 301)"><use href="#l6"/><text y="1.4">SREBF1</text></g>
<g id="n-RELA" transform="translate(188 287)"><use href="#l4"/><text y="1.4">RELA</text></g>
<g id="n-SOD1" transform="translate(215 297)"><use href="#l4"/><text y="1.4">SOD1</text></g>
<g id="n-TIMP1" transform="translate(178 313)"><use href="#l5"/><text y="1.4">TIMP1</text></g>
<g id="n-TP53" transform="translate(198 321)"><use href="#l4"/><text y="1.4">TP53</text></g>
<g id="n-TYR" transform="translate(220 326)"><use href="#l3"/><text y="1.4">TYR</text></g>
<g id="n-ABCB1" transform="translate(246 329)"><use href="#l5"/><text y="1.4">ABCB1</text></g>
<g id="n-AKT1" transform="translate(242 298)"><use href="#l4"/><text y="1.4">AKT1</text></g>
<g id="n-ABCC1" transform="translate(268 326)"><use href="#l5"/><text y="1.4">ABCC1</text></g>
<g id="n-APOB" transform="translate(272 297)"><use href="#l4"/><text y="1.4">APOB</text></g>
<g id="n-ADIPOQ" transform="translate(290 321)"><use href="#l6"/><text y="1.4">ADIPOQ</text></g>
<g id="n-BAD" transform="translate(298 287)"><use href="#l3"/><text y="1.4">BAD</text></g>
<g id="n-ADRB2" transform="translate(313 313)"><use href="#l5"/><text y="1.4">ADRB2</text></g>
<g id="n-BCL2" transform="translate(322 272)"><use href="#l4"/><text y="1.4">BCL2</text></g>
<g id="n-AR" transform="translate(333 300)"><use href="#l2"/><text y="1.4">AR</text></g>
<g id="n-BAX" transform="translate(348 286)"><use href="#l3"/><text y="1.4">BAX</text></g>
<g id="n-CASP9" transform="translate(365 268)"><use href="#l5"/><text y="1.4">CASP9</text></g>
<g id="n-BMP4" transform="translate(343 253)"><use href="#l4"/><text y="1.4">BMP4</text></g>
<g id="n-CDK2" transform="translate(375 250)"><use href="#l4"/><text y="1.4">CDK2</text></g>
<g id="n-BMPR1A" transform="translate(353 228)"><use href="#l6"/><text y="1.4">BMPR1A</text></g>
<g id="n-CDK4" transform="translate(382 230)"><use href="#l4"/><text y="1.4">CDK4</text></g>
<g id="n-CASP3" transform="translate(360 203)"><use href="#l5"/><text y="1.4">CASP3</text></g>
<g id="n-CDKN1A" transform="translate(393 209)"><use href="#l6"/><text y="1.4">CDKN1A</text></g>
<g id="n-CAT" transform="translate(358 177)"><use href="#l3"/><text y="1.4">CAT</text></g>
<g id="n-CHEK1" transform="translate(385 188)"><use href="#l5"/><text y="1.4">CHEK1</text></g>
<g id="n-CREB1" transform="translate(378 167)"><use href="#l5"/><text y="1.4">CREB1</text></g>
<g id="n-ESR1" transform="translate(348 153)"><use href="#l4"/><text y="1.4">ESR1</text></g>
<g id="n-CYP19A1" transform="translate(370 147)"><use href="#l7"/><text y="1.4">CYP19A1</text></g>
<g id="n-CYP1A1" transform="translate(357 129)"><use href="#l6"/><text y="1.4">CYP1A1</text></g>
<g id="n-FASN" transform="translate(332 129)"><use href="#l4"/><text y="1.4">FASN</text></g>
<g id="n-CYP1B1" transform="translate(342 113)"><use href="#l6"/><text y="1.4">CYP1B1</text></g>
<g id="n-GSTP1" transform="translate(312 113)"><use href="#l5"/><text y="1.4">GSTP1</text></g>
<g id="n-EPHB2" transform="translate(323 100)"><use href="#l5"/><text y="1.4">EPHB2</text></g>
<g id="n-ESR2" transform="translate(302 90)"><use href="#l4"/><text y="1.4">ESR2</text></g>
<g id="n-MAPK1" transform="translate(283 99)"><use href="#l5"/><text y="1.4">MAPK1</text></g>
<g id="n-F2" transform="translate(280 83)"><use href="#l2"/><text y="1.4">F2</text></g>
<g id="n-MAPK14" transform="translate(257 93)"><use href="#l6"/><text y="1.4">MAPK14</text></g>
<g id="n-GSK3B" transform="translate(255 80)"><use href="#l5"/><text y="1.4">GSK3B</text></g>
<g id="n-MGMT" transform="translate(228 93)"><use href="#l4"/><text y="1.4">MGMT</text></g>
<g id="n-HMOX1" transform="translate(232 80)"><use href="#l5"/><text y="1.4">HMOX1</text></g>
<g id="n-HSPA8" transform="translate(210 83)"><use href="#l5"/><text y="1.4">HSPA8</text></g>
<g id="n-MMP1" transform="translate(198 99)"><use href="#l4"/><text y="1.4">MMP1</text></g>
<g id="n-ICAM1" transform="translate(188 89)"><use href="#l5"/><text y="1.4">ICAM1</text></g>
<g id="n-MMP7" transform="translate(175 112)"><use href="#l4"/><text y="1.4">MMP7</text></g>
</g>
<g id="compounds">
<g id="C1"><ellipse class="c" cx="240" cy="240" rx="17" ry="16"/><text class="ct" x="240" y="243.6">C1</text></g>
<g id="C2"><ellipse class="c" cx="300" cy="148" rx="17" ry="16"/><text class="ct" x="300" y="151.6">C2</text></g>
<g id="C3"><ellipse class="c" cx="275" cy="125" rx="17" ry="16"/><text class="ct" x="275" y="128.6">C3</text></g>
<g id="C4"><ellipse class="c" cx="240" cy="115" rx="17" ry="16"/><text class="ct" x="240" y="118.6">C4</text></g>
<g id="C5"><ellipse class="c" cx="205" cy="125" rx="17" ry="16"/><text class="ct" x="205" y="128.6">C5</text></g>
<g id="C6"><ellipse class="c" cx="178" cy="148" rx="17" ry="16"/><text class="ct" x="178" y="151.6">C6</text></g>
<g id="C7"><ellipse class="c" cx="172" cy="178" rx="17" ry="16"/><text class="ct" x="172" y="181.6">C7</text></g>
<g id="C8"><ellipse class="c" cx="178" cy="210" rx="17" ry="16"/><text class="ct" x="178" y="213.6">C8</text></g>
<g id="C9"><ellipse class="c" cx="205" cy="232" rx="17" ry="16"/><text class="ct" x="205" y="235.6">C9</text></g>
<g id="C10"><ellipse class="c" cx="273" cy="232" rx="17" ry="16"/><text class="ct" x="273" y="235.6">C10</text></g>
<g id="C11"><ellipse class="c" cx="300" cy="210" rx="17" ry="16"/><text class="ct" x="300" y="213.6">C11</text></g>
<g id="C12"><ellipse class="c" cx="308" cy="178" rx="17" ry="16"/><text class="ct" x="308" y="181.6">C12</text></g>
</g>
<g id="citrus"><polygon points="241,137 271,167 241,197 211,167" fill="#e6c26c"/><text class="cz" x="240" y="175">Citrus</text></g>
</svg>
